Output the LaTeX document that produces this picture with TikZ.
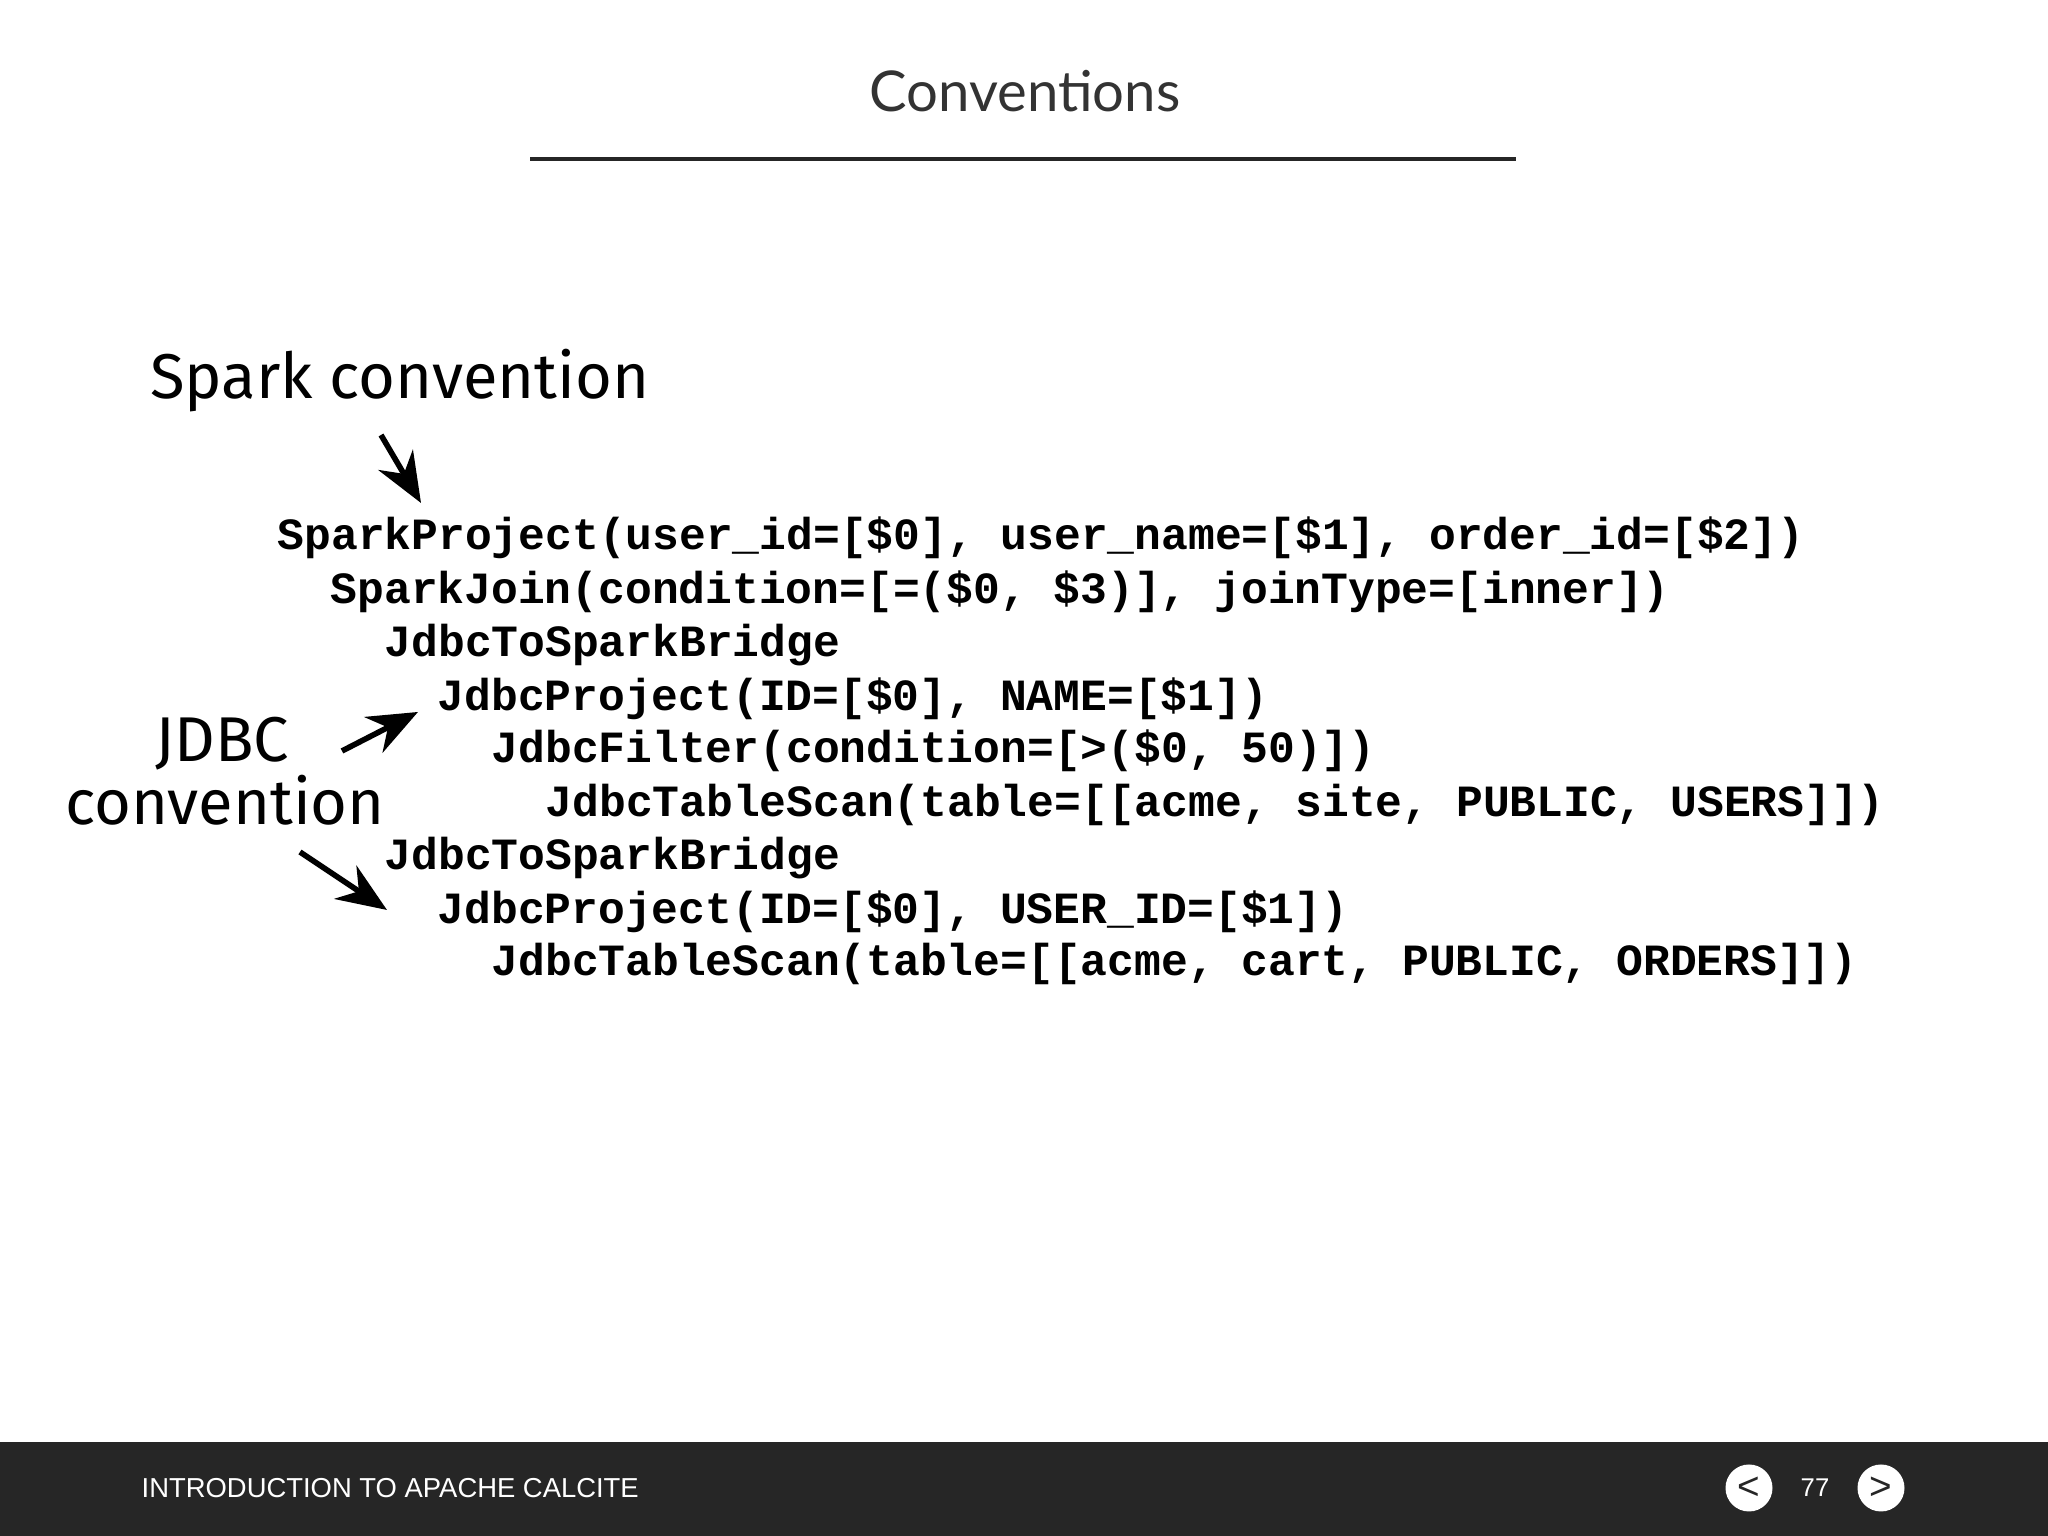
\documentclass[tikz,border=0pt]{standalone}
\usepackage{fontspec}
\setmainfont{Lato}
\newfontfamily\codefont{Liberation Mono}
\newfontfamily\handfont{Fira Sans}
\newfontfamily\footfont{Liberation Sans}
\usetikzlibrary{arrows.meta}
\definecolor{bar}{HTML}{262626}
\tikzset{code/.style={anchor=west,inner sep=0pt,font=\codefont\bfseries\fontsize{12.7}{14}\selectfont,text=black},
hand/.style={font=\handfont\fontsize{18}{20}\selectfont,text=black,inner sep=0pt},
harrow/.style={-{Stealth[length=5mm,width=4mm]},line width=1.6pt}}
\begin{document}
\begin{tikzpicture}
\useasboundingbox (0,0) rectangle (20.48,15.36);
\fill[white] (0,0) rectangle (20.48,15.36);
\node[font=\fontsize{16}{18}\selectfont,text=black!80] (title) at (10.25,14.45) {Conventions};
\draw[line width=1.2pt,black!85] (5.30,13.77) coordinate (l1) -- (15.16,13.77) coordinate (l2);
\node[code] (c1) at (2.77,9.98) {SparkProject(user\_id=[\$0], user\_name=[\$1], order\_id=[\$2])};
\node[code] (c2) at (3.30,9.44) {SparkJoin(condition=[=(\$0, \$3)], joinType=[inner])};
\node[code] (c3) at (3.84,8.91) {JdbcToSparkBridge};
\node[code] (c4) at (4.37,8.37) {JdbcProject(ID=[\$0], NAME=[\$1])};
\node[code] (c5) at (4.91,7.85) {JdbcFilter(condition=[>(\$0, 50)])};
\node[code] (c6) at (5.45,7.31) {JdbcTableScan(table=[[acme, site, PUBLIC, USERS]])};
\node[code] (c7) at (3.84,6.78) {JdbcToSparkBridge};
\node[code] (c8) at (4.37,6.24) {JdbcProject(ID=[\$0], USER\_ID=[\$1])};
\node[code] (c9) at (4.91,5.72) {JdbcTableScan(table=[[acme, cart, PUBLIC, ORDERS]])};
\node[hand] (spark) at (4.00,11.55) {Spark convention};
\node[hand] (jdbc) at (2.22,7.92) {JDBC};
\node[hand] (conv) at (2.25,7.36) {convention};
\coordinate (a1s) at (3.81,11.01); \coordinate (a1e) at (4.21,10.33);
\coordinate (a2s) at (3.42,7.85); \coordinate (a2e) at (4.18,8.24);
\coordinate (a3s) at (3.00,6.84); \coordinate (a3e) at (3.87,6.26);
\draw[harrow] (a1s) -- (a1e);
\draw[harrow] (a2s) -- (a2e);
\draw[harrow] (a3s) -- (a3e);
\fill[bar] (0,0) rectangle (20.48,0.94);
\node[anchor=west,inner sep=0pt,text=white,font=\footfont\fontsize{7.8}{9}\selectfont] (foot) at (1.41,0.48) {INTRODUCTION TO APACHE CALCITE};
\node[circle,fill=white,minimum size=0.47cm,inner sep=0pt,text=bar,font=\footfont\fontsize{11}{12}\selectfont] (prev) at (17.49,0.48) {<};
\node[text=white,font=\footfont\fontsize{7.3}{9}\selectfont] (page) at (18.15,0.48) {77};
\node[circle,fill=white,minimum size=0.47cm,inner sep=0pt,text=bar,font=\footfont\fontsize{11}{12}\selectfont] (next) at (18.81,0.48) {>};
\end{tikzpicture}
\end{document}
